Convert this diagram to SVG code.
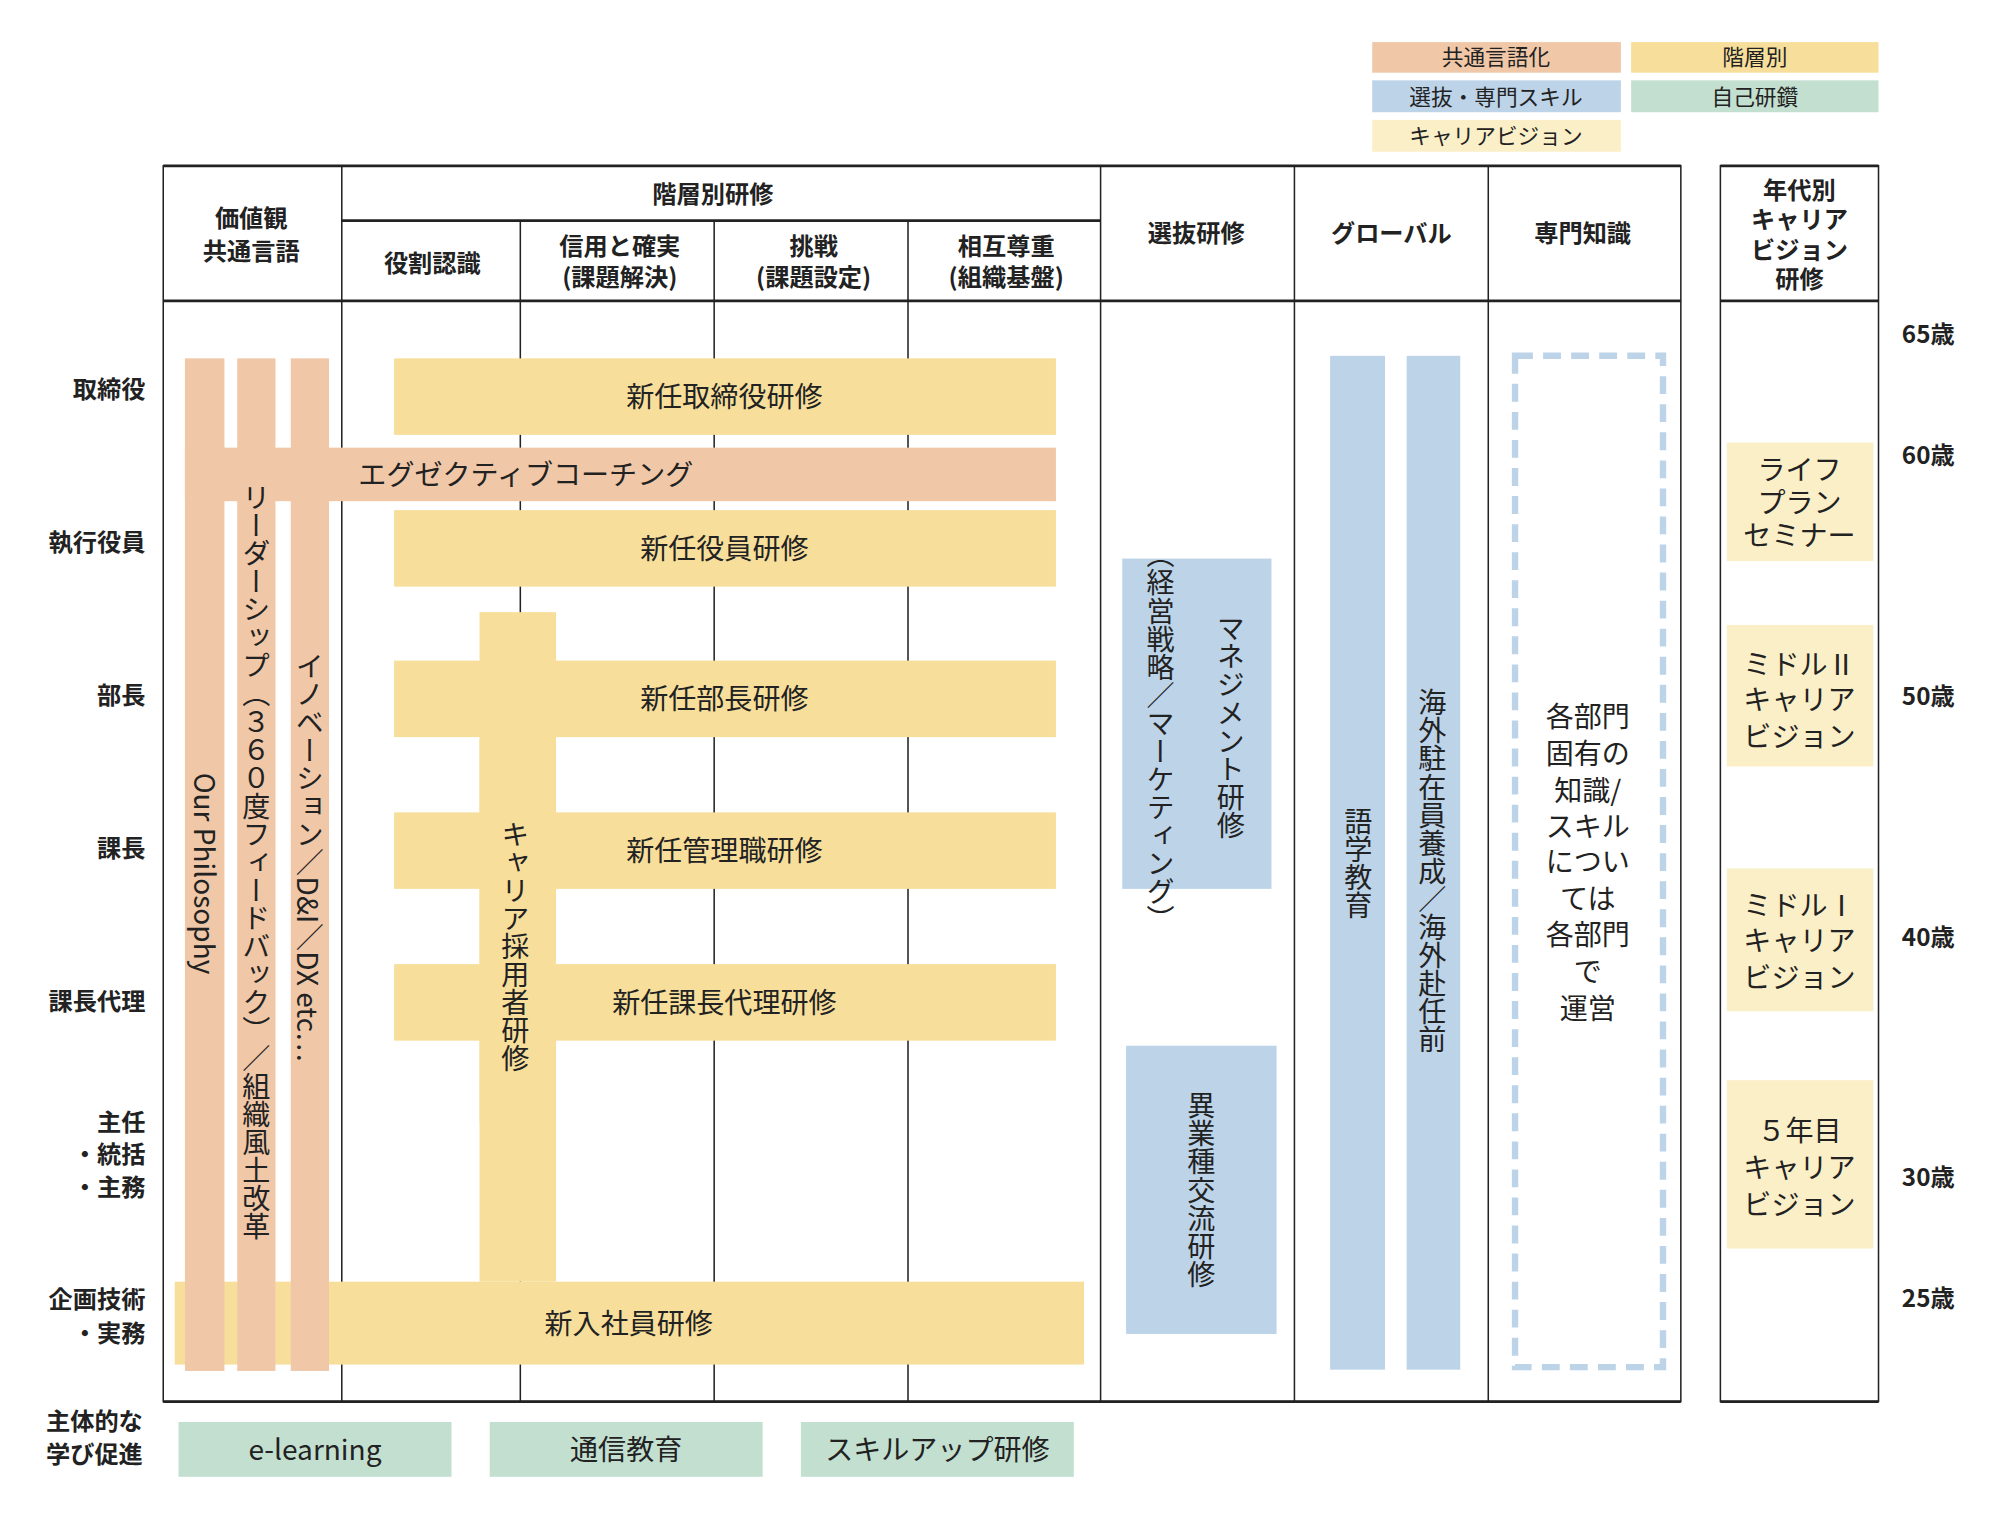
<svg xmlns="http://www.w3.org/2000/svg" width="2000" height="1520" viewBox="0 0 2000 1520">
<style>
text{font-family:"Noto Sans CJK JP","Noto Sans",sans-serif;fill:#222}
.h{font-size:19px;font-weight:bold;text-anchor:middle}
.l{font-size:19px;font-weight:bold;text-anchor:end}
.t{font-size:22px;text-anchor:middle}
.v{font-size:22px;text-anchor:middle;writing-mode:vertical-rl}
.lg{font-size:17px;text-anchor:middle}
.o{fill:#f0c8a8}.y{fill:#f7df9b}.b{fill:#bcd3e8}.g{fill:#c2dfd0}.c{fill:#fbefc8}
.ln{stroke:#222;stroke-width:1.2;fill:none}
.tk{stroke:#222;stroke-width:2.2;fill:none}
</style>
<rect width="2000" height="1520" fill="#fff"/>
<g transform="scale(1.2753)">
<g id="legend">
<rect class="o" x="1076" y="33" width="195" height="24"/><text class="lg" x="1173" y="51">共通言語化</text>
<rect class="y" x="1279" y="33" width="194" height="24"/><text class="lg" x="1376" y="51">階層別</text>
<rect class="b" x="1076" y="63" width="195" height="25"/><text class="lg" x="1173" y="82">選抜・専門スキル</text>
<rect class="g" x="1279" y="63" width="194" height="25"/><text class="lg" x="1376" y="82">自己研鑽</text>
<rect class="c" x="1076" y="94" width="195" height="25"/><text class="lg" x="1173" y="113">キャリアビジョン</text>
</g>
<g id="table">
<rect class="ln" x="128" y="130" width="1190" height="969"/>
<line class="tk" x1="128" y1="130" x2="1318" y2="130"/>
<line class="tk" x1="128" y1="236" x2="1318" y2="236"/>
<line class="tk" x1="128" y1="1099" x2="1318" y2="1099"/>
<line class="tk" x1="268" y1="173" x2="863" y2="173"/>
<path class="ln" d="M268 130V1099M408 173V1099M560 173V1099M712 173V1099M863 130V1099M1015 130V1099M1167 130V1099"/>
<rect class="ln" x="1349" y="130" width="124" height="969"/>
<line class="tk" x1="1349" y1="130" x2="1473" y2="130"/>
<line class="tk" x1="1349" y1="236" x2="1473" y2="236"/>
<line class="tk" x1="1349" y1="1099" x2="1473" y2="1099"/>
<text class="h" x="197" y="178">価値観</text><text class="h" x="197" y="204">共通言語</text>
<text class="h" x="559" y="159">階層別研修</text>
<text class="h" x="339" y="213">役割認識</text>
<text class="h" x="486" y="200">信用と確実</text><text class="h" x="486" y="224">(課題解決)</text>
<text class="h" x="638" y="200">挑戦</text><text class="h" x="638" y="224">(課題設定)</text>
<text class="h" x="789" y="200">相互尊重</text><text class="h" x="789" y="224">(組織基盤)</text>
<text class="h" x="938" y="190">選抜研修</text>
<text class="h" x="1091" y="190">グローバル</text>
<text class="h" x="1241" y="190">専門知識</text>
<text class="h" x="1411" y="156">年代別</text><text class="h" x="1411" y="179">キャリア</text><text class="h" x="1411" y="203">ビジョン</text><text class="h" x="1411" y="226">研修</text>
</g>
<g id="rows">
<text class="l" x="114" y="312">取締役</text>
<text class="l" x="114" y="432">執行役員</text>
<text class="l" x="114" y="552">部長</text>
<text class="l" x="114" y="672">課長</text>
<text class="l" x="114" y="792">課長代理</text>
<text class="l" x="114" y="887">主任</text>
<text class="l" x="114" y="912">・統括</text>
<text class="l" x="114" y="938">・主務</text>
<text class="l" x="114" y="1026">企画技術</text>
<text class="l" x="114" y="1052">・実務</text>
<text class="l" x="112" y="1121">主体的な</text>
<text class="l" x="112" y="1147">学び促進</text>
</g>
<g id="ages">
<text class="h" x="1512" y="269" font-size="21">65歳</text>
<text class="h" x="1512" y="364" font-size="21">60歳</text>
<text class="h" x="1512" y="553" font-size="21">50歳</text>
<text class="h" x="1512" y="742" font-size="21">40歳</text>
<text class="h" x="1512" y="930" font-size="21">30歳</text>
<text class="h" x="1512" y="1025" font-size="21">25歳</text>
</g>
<g id="connectors"></g>
<g id="n-shinnyu"><rect class="y" x="137" y="1005" width="713" height="65"/><text class="t" x="493" y="1046">新入社員研修</text></g>
<rect class="y" x="376" y="480" width="60" height="525"/>
<g id="n-exec"><rect class="o" x="145" y="351" width="683" height="42"/><text class="t" x="281" y="380" style="text-anchor:start">エグゼクティブコーチング</text></g>
<g id="n-torishimari"><rect class="y" x="309" y="281" width="519" height="60"/><text class="t" x="568" y="319">新任取締役研修</text></g>
<g id="n-yakuin"><rect class="y" x="309" y="400" width="519" height="60"/><text class="t" x="568" y="438">新任役員研修</text></g>
<g id="n-bucho"><rect class="y" x="309" y="518" width="519" height="60"/><text class="t" x="568" y="556">新任部長研修</text></g>
<g id="n-kanri"><rect class="y" x="309" y="637" width="519" height="60"/><text class="t" x="568" y="675">新任管理職研修</text></g>
<g id="n-dairi"><rect class="y" x="309" y="756" width="519" height="60"/><text class="t" x="568" y="794">新任課長代理研修</text></g>
<g id="n-career"><rect class="y" x="376" y="580" width="60" height="300"/><text class="v" x="404" y="742">キャリア採用者研修</text></g>
<g id="n-our"><rect class="o" x="145" y="281" width="31" height="794"/><text class="t" transform="translate(160 685) rotate(90)" x="0" y="8">Our Philosophy</text></g>
<g id="n-leader"><rect class="o" x="186" y="281" width="30" height="794"/><text class="v" x="201" y="676">リーダーシップ（３６０度フィードバック）／組織風土改革</text></g>
<g id="n-innov"><rect class="o" x="228" y="281" width="30" height="794"/><text class="v" x="243" y="672">イノベーション／D&amp;I／DX etc…</text></g>
<g id="n-mgmt"><rect class="b" x="880" y="438" width="117" height="259"/><text class="v" x="965" y="570">マネジメント研修</text><text class="v" x="910" y="578" font-size="18">（経営戦略／マーケティング）</text></g>
<g id="n-igyo"><rect class="b" x="883" y="820" width="118" height="226"/><text class="v" x="942" y="933">異業種交流研修</text></g>
<g id="n-gogaku"><rect class="b" x="1043" y="279" width="43" height="795"/><text class="v" x="1065" y="677">語学教育</text></g>
<g id="n-kaigai"><rect class="b" x="1103" y="279" width="42" height="795"/><text class="v" x="1123" y="683">海外駐在員養成／海外赴任前</text></g>
<g id="n-senmon"><rect x="1188" y="279" width="116" height="793" fill="none" stroke="#bcd3e8" stroke-width="5" stroke-dasharray="14 8"/>
<text class="t" x="1245" y="570">各部門</text><text class="t" x="1245" y="599">固有の</text><text class="t" x="1245" y="628">知識/</text><text class="t" x="1245" y="656">スキル</text><text class="t" x="1245" y="684">につい</text><text class="t" x="1245" y="713">ては</text><text class="t" x="1245" y="741">各部門</text><text class="t" x="1245" y="770">で</text><text class="t" x="1245" y="799">運営</text></g>
<g id="n-life"><rect class="c" x="1354" y="347" width="115" height="93"/><text class="t" x="1411" y="376">ライフ</text><text class="t" x="1411" y="402">プラン</text><text class="t" x="1411" y="428">セミナー</text></g>
<g id="n-mid2"><rect class="c" x="1354" y="490" width="115" height="111"/><text class="t" x="1411" y="529">ミドルⅡ</text><text class="t" x="1411" y="557">キャリア</text><text class="t" x="1411" y="586">ビジョン</text></g>
<g id="n-mid1"><rect class="c" x="1354" y="681" width="115" height="112"/><text class="t" x="1411" y="718">ミドルⅠ</text><text class="t" x="1411" y="746">キャリア</text><text class="t" x="1411" y="775">ビジョン</text></g>
<g id="n-5y"><rect class="c" x="1354" y="847" width="115" height="132"/><text class="t" x="1411" y="895">５年目</text><text class="t" x="1411" y="924">キャリア</text><text class="t" x="1411" y="953">ビジョン</text></g>
<g id="n-elearn"><rect class="g" x="140" y="1115" width="214" height="43"/><text class="t" x="247" y="1145">e-learning</text></g>
<g id="n-tsushin"><rect class="g" x="384" y="1115" width="214" height="43"/><text class="t" x="491" y="1145">通信教育</text></g>
<g id="n-skill"><rect class="g" x="628" y="1115" width="214" height="43"/><text class="t" x="735" y="1145">スキルアップ研修</text></g>
</g>
</svg>
